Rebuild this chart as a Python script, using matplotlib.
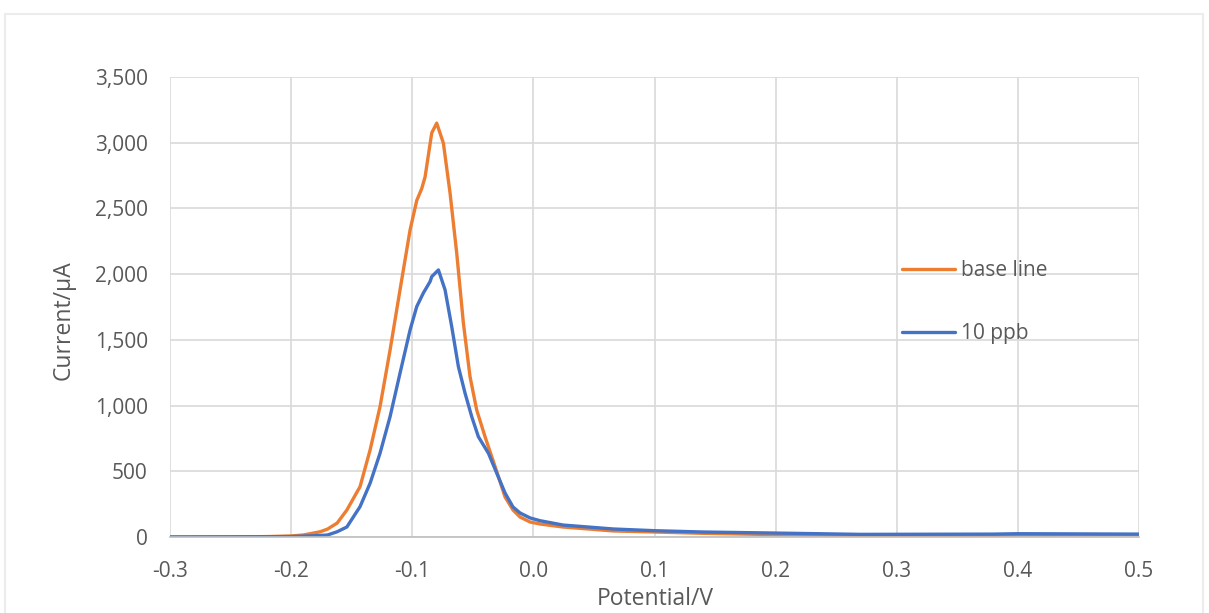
import matplotlib
matplotlib.use("Agg")
import matplotlib.pyplot as plt
from matplotlib.patches import Rectangle
from matplotlib.ticker import FuncFormatter, MultipleLocator

# Data (potential in V, current in uA)
potential_base = [-0.300, -0.250, -0.220, -0.200, -0.190, -0.176, -0.170, -0.162, -0.154, -0.1431, -0.1348,
                  -0.1266, -0.1183, -0.1101, -0.1018, -0.0963, -0.0922, -0.0894, -0.0839, -0.0798,
                  -0.0743, -0.0688, -0.0633, -0.0578, -0.0523, -0.0468, -0.0399, -0.0316, -0.0234, -0.0168,
                  -0.0110, -0.0027, 0.0055, 0.0245, 0.066, 0.100, 0.140, 0.200, 0.270, 0.380, 0.400, 0.500]
current_base = [0, 1, 3, 8, 15, 40, 60, 106, 205, 383, 662,
                992, 1423, 1880, 2336, 2560, 2650, 2740, 3075, 3149,
                2997, 2618, 2161, 1629, 1220, 967, 763, 535, 305, 205,
                152, 114, 99, 76, 46, 38, 28, 18, 12, 12, 15, 18]

potential_10ppb = [-0.300, -0.250, -0.220, -0.200, -0.180, -0.170, -0.162, -0.154, -0.1431, -0.1348,
                   -0.1266, -0.1183, -0.1101, -0.1018, -0.0963, -0.0908, -0.0853, -0.0839, -0.0784,
                   -0.0729, -0.0674, -0.0619, -0.0564, -0.0509, -0.0454, -0.0371, -0.0302, -0.0234,
                   -0.0168, -0.0110, -0.0027, 0.0055, 0.0245, 0.066, 0.100, 0.140, 0.200, 0.270,
                   0.380, 0.400, 0.500]
current_10ppb = [0, 1, 2, 3, 10, 15, 40, 76, 231, 409,
                 637, 916, 1246, 1575, 1753, 1857, 1943, 1981, 2032,
                 1880, 1600, 1296, 1094, 916, 763, 637, 485, 335,
                 228, 183, 145, 124, 91, 61, 48, 38, 30, 20,
                 22, 25, 22]

series_labels = ["base line", "10 ppb"]
x_label = "Potential/V"
y_label = "Current/µA"

plt.rcParams['font.family'] = ['Open Sans', 'DejaVu Sans']
TXT = "#595959"

fig = plt.figure(figsize=(12.09, 6.13), dpi=100)
fig.patch.set_facecolor("white")
# faint outer chart border
fig.patches.append(Rectangle((5/1209, -0.05), 1198/1209, 1 - 14/613 + 0.05, transform=fig.transFigure,
                             fill=False, edgecolor="#ececec", linewidth=1.5))

ax = fig.add_axes([170/1209, 1 - 537/613, (1139 - 170)/1209, (537 - 77)/613])
ax.plot(potential_base, current_base, color="#ED7D31", linewidth=2.4, label=series_labels[0],
        solid_capstyle="round", solid_joinstyle="round")
ax.plot(potential_10ppb, current_10ppb, color="#4472C4", linewidth=2.4, label=series_labels[1],
        solid_capstyle="round", solid_joinstyle="round")

ax.set_xlim(-0.3, 0.5)
ax.set_ylim(0, 3500)
ax.xaxis.set_major_locator(MultipleLocator(0.1))
ax.yaxis.set_major_locator(MultipleLocator(500))
ax.xaxis.set_major_formatter(FuncFormatter(lambda v, p: f"{v:.1f}"))
ax.yaxis.set_major_formatter(FuncFormatter(lambda v, p: f"{int(round(v)):,}"))
ax.grid(True, color="#d9d9d9", linewidth=1.2)
ax.set_axisbelow(True)
for s in ["top", "right", "left"]:
    ax.spines[s].set_visible(False)
ax.spines["bottom"].set_color("#bfbfbf")
ax.spines["bottom"].set_linewidth(1.2)
ax.tick_params(axis="both", length=0, labelsize=15, colors=TXT)
ax.tick_params(axis="y", pad=16)
ax.tick_params(axis="x", pad=17)

fig.text(655/1209, 1 - 599/613, x_label, fontsize=16.5, color=TXT, ha="center", va="center")
fig.text(64/1209, 1 - 320/613, y_label, fontsize=16.5, color=TXT, ha="center", va="center", rotation=90)

leg = ax.legend(loc="upper left", bbox_to_anchor=((892 - 170)/969, 1 - (250 - 77)/460), frameon=False,
                fontsize=15, handlelength=2.5, handletextpad=0.3, labelspacing=2.0, borderpad=0)
for t in leg.get_texts():
    t.set_color(TXT)

fig.savefig("out.png", dpi=100, facecolor="white")
